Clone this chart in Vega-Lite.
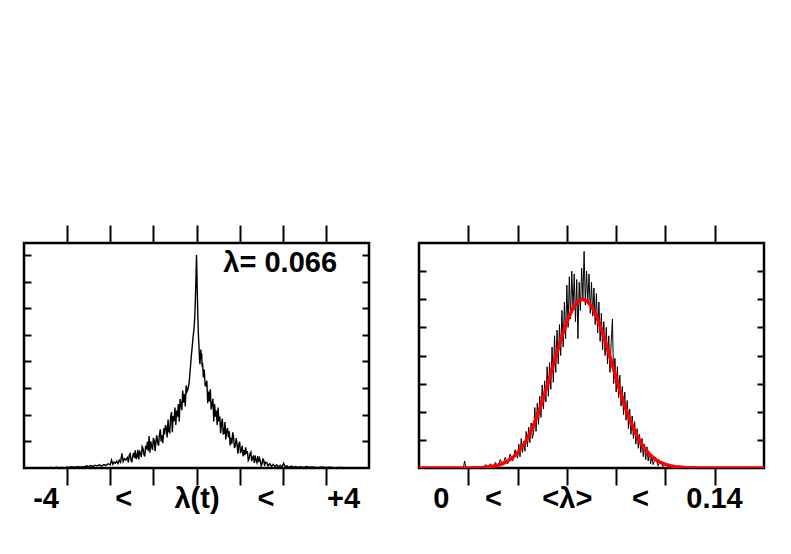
{
  "$schema": "https://vega.github.io/schema/vega-lite/v6.json",
  "background": "white",
  "padding": {"left": 21, "top": 222, "right": 0, "bottom": 0},
  "bounds": "flush",
  "spacing": 50,
  "config": {
    "view": {"stroke": "black", "strokeWidth": 2.5},
    "axis": {"domain": false, "grid": false, "tickColor": "black", "tickWidth": 2, "labelFont": "Liberation Sans", "labelFontWeight": "bold", "labelFontSize": 29, "labelColor": "black", "title": null, "tickCount": 20, "labelOverlap": false}
  },
  "datasets": {
    "left": [
      {"x":-3.4,"y":0.02},{"x":-3.3,"y":0},{"x":-3.25,"y":0.03},{"x":-3.2,"y":0.01},{"x":-3.1,"y":0.02},{"x":-3.05,"y":0},{"x":-3.0,"y":0.04},{"x":-2.95,"y":0.02},{"x":-2.9,"y":0.05},{"x":-2.8,"y":0.03},{"x":-2.75,"y":0.06},{"x":-2.7,"y":0.03},{"x":-2.65,"y":0.05},{"x":-2.6,"y":0.04},{"x":-2.55,"y":0.08},{"x":-2.5,"y":0.05},{"x":-2.45,"y":0.09},{"x":-2.4,"y":0.06},{"x":-2.35,"y":0.1},{"x":-2.3,"y":0.08},{"x":-2.25,"y":0.12},{"x":-2.2,"y":0.07},{"x":-2.15,"y":0.13},{"x":-2.1,"y":0.1},{"x":-2.05,"y":0.16},{"x":-2.0,"y":0.12},{"x":-1.97,"y":0.3},{"x":-1.94,"y":0.14},{"x":-1.91,"y":0.22},{"x":-1.88,"y":0.18},{"x":-1.85,"y":0.26},{"x":-1.82,"y":0.17},{"x":-1.79,"y":0.3},{"x":-1.76,"y":0.22},{"x":-1.73,"y":0.55},{"x":-1.7,"y":0.24},{"x":-1.67,"y":0.35},{"x":-1.64,"y":0.3},
      {"x":-1.6,"y":0.39},{"x":-1.58,"y":0.21},{"x":-1.56,"y":0.48},{"x":-1.54,"y":0.54},{"x":-1.52,"y":0.31},{"x":-1.5,"y":0.21},{"x":-1.48,"y":0.45},{"x":-1.46,"y":0.57},{"x":-1.44,"y":0.38},{"x":-1.42,"y":0.66},{"x":-1.4,"y":0.34},{"x":-1.38,"y":0.44},{"x":-1.36,"y":0.68},{"x":-1.34,"y":0.32},{"x":-1.32,"y":0.62},{"x":-1.3,"y":0.57},{"x":-1.28,"y":0.41},{"x":-1.26,"y":0.8},{"x":-1.24,"y":0.73},{"x":-1.22,"y":0.51},{"x":-1.2,"y":0.43},{"x":-1.18,"y":0.83},{"x":-1.16,"y":0.7},{"x":-1.14,"y":0.98},{"x":-1.12,"y":0.64},{"x":-1.1,"y":1.2},{"x":-1.08,"y":0.57},{"x":-1.06,"y":1.0},{"x":-1.04,"y":0.8},{"x":-1.02,"y":0.68},{"x":-1.0,"y":1.13},{"x":-0.98,"y":1.02},{"x":-0.96,"y":0.63},{"x":-0.94,"y":1.02},{"x":-0.92,"y":1.23},{"x":-0.9,"y":0.93},{"x":-0.88,"y":0.84},{"x":-0.86,"y":1.25},{"x":-0.84,"y":1.45},{"x":-0.82,"y":1.0},{"x":-0.8,"y":1.23},{"x":-0.78,"y":0.93},{"x":-0.76,"y":1.49},{"x":-0.74,"y":1.25},{"x":-0.72,"y":1.61},{"x":-0.7,"y":1.51},{"x":-0.68,"y":1.15},{"x":-0.66,"y":1.82},{"x":-0.64,"y":1.37},{"x":-0.62,"y":1.33},{"x":-0.6,"y":1.91},{"x":-0.58,"y":2.1},{"x":-0.56,"y":1.34},{"x":-0.54,"y":1.95},{"x":-0.52,"y":1.76},{"x":-0.5,"y":2.27},{"x":-0.48,"y":1.62},{"x":-0.46,"y":2.16},{"x":-0.44,"y":1.93},{"x":-0.42,"y":2.4},{"x":-0.4,"y":1.75},{"x":-0.38,"y":2.59},{"x":-0.36,"y":2.39},{"x":-0.34,"y":2.17},{"x":-0.32,"y":2.91},{"x":-0.3,"y":2.45},{"x":-0.28,"y":2.78},{"x":-0.26,"y":2.31},{"x":-0.24,"y":3.1},{"x":-0.22,"y":2.87},
      {"x":-0.2,"y":2.95},{"x":-0.18,"y":3.1},{"x":-0.16,"y":3.4},{"x":-0.14,"y":3.8},{"x":-0.12,"y":4.2},{"x":-0.1,"y":4.55},{"x":-0.08,"y":4.9},{"x":-0.06,"y":5.2},{"x":-0.05,"y":5.4},{"x":-0.04,"y":5.7},{"x":-0.03,"y":6.1},{"x":-0.02,"y":6.7},{"x":-0.01,"y":7.3},{"x":0,"y":8.0},
      {"x":0.01,"y":7.3},{"x":0.02,"y":6.5},{"x":0.03,"y":5.8},{"x":0.04,"y":5.2},{"x":0.05,"y":4.8},{"x":0.06,"y":4.5},{"x":0.07,"y":4.1},{"x":0.08,"y":3.9},{"x":0.09,"y":4.2},{"x":0.1,"y":4.45},{"x":0.11,"y":4.1},{"x":0.12,"y":4.3},{"x":0.13,"y":3.8},{"x":0.14,"y":3.95},{"x":0.16,"y":3.4},{"x":0.18,"y":3.7},{"x":0.2,"y":3.1},
      {"x":0.22,"y":3.08},{"x":0.24,"y":3.28},{"x":0.26,"y":2.43},{"x":0.28,"y":2.87},{"x":0.3,"y":2.5},{"x":0.32,"y":2.96},{"x":0.34,"y":2.2},{"x":0.36,"y":2.41},{"x":0.38,"y":2.6},{"x":0.4,"y":1.75},{"x":0.42,"y":2.4},{"x":0.44,"y":1.93},{"x":0.46,"y":2.16},{"x":0.48,"y":1.62},{"x":0.5,"y":2.27},{"x":0.52,"y":1.75},{"x":0.54,"y":1.93},{"x":0.56,"y":1.31},{"x":0.58,"y":1.69},{"x":0.6,"y":1.85},{"x":0.62,"y":1.28},{"x":0.64,"y":1.3},{"x":0.66,"y":1.73},{"x":0.68,"y":1.07},{"x":0.7,"y":1.41},{"x":0.72,"y":1.5},{"x":0.74,"y":1.15},{"x":0.76,"y":1.38},{"x":0.78,"y":0.85},{"x":0.8,"y":1.13},{"x":0.82,"y":0.91},{"x":0.84,"y":1.34},{"x":0.86,"y":1.14},{"x":0.88,"y":0.75},{"x":0.9,"y":0.83},{"x":0.92,"y":1.12},{"x":0.94,"y":0.91},{"x":0.96,"y":0.54},{"x":0.98,"y":0.89},{"x":1.0,"y":0.99},{"x":1.02,"y":0.56},{"x":1.04,"y":0.66},{"x":1.06,"y":0.83},{"x":1.08,"y":0.44},{"x":1.1,"y":0.67},{"x":1.12,"y":0.48},{"x":1.14,"y":0.78},{"x":1.16,"y":0.53},{"x":1.18,"y":0.64},{"x":1.2,"y":0.29},{"x":1.22,"y":0.36},{"x":1.24,"y":0.54},{"x":1.26,"y":0.6},{"x":1.28,"y":0.26},{"x":1.3,"y":0.4},{"x":1.32,"y":0.44},{"x":1.34,"y":0.19},{"x":1.36,"y":0.47},{"x":1.38,"y":0.28},{"x":1.4,"y":0.2},{"x":1.42,"y":0.45},{"x":1.44,"y":0.22},{"x":1.46,"y":0.37},{"x":1.48,"y":0.27},{"x":1.5,"y":0.08},{"x":1.52,"y":0.16},{"x":1.54,"y":0.33},{"x":1.56,"y":0.28},{"x":1.58,"y":0.08},{"x":1.6,"y":0.22},
      {"x":1.63,"y":0.2},{"x":1.66,"y":0.08},{"x":1.7,"y":0.16},{"x":1.74,"y":0.07},{"x":1.78,"y":0.14},{"x":1.82,"y":0.05},{"x":1.86,"y":0.12},{"x":1.9,"y":0.04},{"x":1.94,"y":0.1},{"x":1.98,"y":0.03},{"x":2.02,"y":0.18},{"x":2.06,"y":0.04},{"x":2.1,"y":0.08},{"x":2.15,"y":0.02},{"x":2.2,"y":0.07},{"x":2.25,"y":0.03},{"x":2.3,"y":0.06},{"x":2.35,"y":0.02},{"x":2.4,"y":0.05},{"x":2.5,"y":0.02},{"x":2.55,"y":0.06},{"x":2.6,"y":0.03},{"x":2.7,"y":0.04},{"x":2.8,"y":0.01},{"x":2.9,"y":0.04},{"x":3.0,"y":0.02},{"x":3.1,"y":0.03},{"x":3.2,"y":0.0},{"x":3.3,"y":0.02},{"x":3.47,"y":0.01}
    ],
    "rightHist": [
      {"x":0.018,"y":0},{"x":0.0185,"y":0.25},{"x":0.019,"y":0.02},{"x":0.021,"y":0},{"x":0.023,"y":0.03},{"x":0.025,"y":0.05},{"x":0.026,"y":0},{"x":0.027,"y":0.12},{"x":0.028,"y":0.04},{"x":0.029,"y":0.15},{"x":0.03,"y":0.05},
      {"x":0.031,"y":0.2},{"x":0.032,"y":0.05},{"x":0.033,"y":0.3},{"x":0.034,"y":0.1},{"x":0.035,"y":0.38},{"x":0.036,"y":0.15},{"x":0.037,"y":0.5},{"x":0.038,"y":0.25},{"x":0.039,"y":0.65},{"x":0.04,"y":0.35},
      {"x":0.0405,"y":0.85},{"x":0.041,"y":0.4},{"x":0.0415,"y":1.05},{"x":0.042,"y":0.55},{"x":0.0425,"y":0.95},{"x":0.043,"y":0.6},{"x":0.0435,"y":1.3},{"x":0.044,"y":0.75},{"x":0.0445,"y":1.45},{"x":0.045,"y":0.9},{"x":0.0455,"y":1.6},{"x":0.046,"y":1.05},{"x":0.0465,"y":1.25},{"x":0.047,"y":2.15},{"x":0.0475,"y":1.3},{"x":0.048,"y":2.3},{"x":0.0485,"y":1.55},{"x":0.049,"y":2.55},{"x":0.0495,"y":1.8},{"x":0.05,"y":2.95},{"x":0.0505,"y":2.1},{"x":0.051,"y":3.1},{"x":0.0515,"y":2.35},{"x":0.052,"y":3.6},{"x":0.0525,"y":2.55},{"x":0.053,"y":3.75},{"x":0.0535,"y":2.8},{"x":0.054,"y":4.3},{"x":0.0545,"y":3.05},{"x":0.055,"y":4.7},{"x":0.0555,"y":3.4},{"x":0.056,"y":4.9},{"x":0.0565,"y":3.7},{"x":0.057,"y":5.1},{"x":0.0575,"y":4.0},{"x":0.058,"y":5.6},{"x":0.0585,"y":4.3},{"x":0.059,"y":5.9},{"x":0.0595,"y":4.6},{"x":0.06,"y":6.5},{"x":0.0605,"y":5.0},{"x":0.061,"y":6.8},{"x":0.0615,"y":5.3},{"x":0.062,"y":7.0},{"x":0.0625,"y":5.7},{"x":0.063,"y":6.9},{"x":0.0635,"y":5.2},{"x":0.064,"y":6.7},{"x":0.0645,"y":4.6},{"x":0.065,"y":6.6},{"x":0.0655,"y":5.6},{"x":0.066,"y":7.1},{"x":0.0665,"y":6.0},{"x":0.067,"y":7.7},{"x":0.0675,"y":5.8},{"x":0.068,"y":7.0},{"x":0.0685,"y":5.9},{"x":0.069,"y":6.9},{"x":0.0695,"y":5.5},{"x":0.07,"y":6.6},{"x":0.0705,"y":5.4},{"x":0.071,"y":6.4},{"x":0.0715,"y":5.1},{"x":0.072,"y":6.2},{"x":0.0725,"y":4.8},{"x":0.073,"y":5.9},{"x":0.0735,"y":4.5},{"x":0.074,"y":5.5},{"x":0.0745,"y":4.2},{"x":0.075,"y":5.2},{"x":0.0755,"y":4.0},{"x":0.076,"y":5.0},{"x":0.0765,"y":3.7},{"x":0.077,"y":4.7},{"x":0.0775,"y":3.4},{"x":0.078,"y":4.5},{"x":0.0785,"y":5.3},{"x":0.079,"y":3.0},{"x":0.0795,"y":3.9},{"x":0.08,"y":2.7},{"x":0.0805,"y":3.6},{"x":0.081,"y":2.5},{"x":0.0815,"y":3.3},{"x":0.082,"y":2.2},{"x":0.0825,"y":2.9},{"x":0.083,"y":1.9},{"x":0.0835,"y":2.7},{"x":0.084,"y":1.7},{"x":0.0845,"y":2.4},{"x":0.085,"y":1.4},{"x":0.0855,"y":2.1},{"x":0.086,"y":1.2},{"x":0.0865,"y":1.85},{"x":0.087,"y":1.05},{"x":0.0875,"y":1.65},{"x":0.088,"y":0.85},{"x":0.0885,"y":1.4},{"x":0.089,"y":0.7},{"x":0.0895,"y":1.2},{"x":0.09,"y":0.55},{"x":0.0905,"y":1.05},{"x":0.091,"y":0.4},{"x":0.0915,"y":0.85},{"x":0.092,"y":0.3},{"x":0.0925,"y":0.75},{"x":0.093,"y":0.25},{"x":0.0935,"y":0.55},{"x":0.094,"y":0.15},{"x":0.0945,"y":0.45},{"x":0.095,"y":0.12},
      {"x":0.096,"y":0.38},{"x":0.097,"y":0.08},{"x":0.098,"y":0.25},{"x":0.099,"y":0.05},{"x":0.1,"y":0.15},{"x":0.101,"y":0.03},{"x":0.102,"y":0.1},{"x":0.103,"y":0.02},{"x":0.104,"y":0.06},{"x":0.105,"y":0.01},{"x":0.106,"y":0.04},{"x":0.107,"y":0},{"x":0.108,"y":0.02}
    ],
    "rightFit": [
      {"x":0,"y":0},{"x":0.015,"y":0},{"x":0.022,"y":0.006},{"x":0.026,"y":0.021},{"x":0.03,"y":0.062},{"x":0.032,"y":0.1},{"x":0.034,"y":0.159},{"x":0.036,"y":0.245},{"x":0.038,"y":0.368},{"x":0.04,"y":0.537},{"x":0.042,"y":0.762},{"x":0.044,"y":1.053},{"x":0.046,"y":1.415},{"x":0.048,"y":1.851},{"x":0.05,"y":2.353},{"x":0.052,"y":2.912},{"x":0.054,"y":3.507},{"x":0.056,"y":4.108},{"x":0.058,"y":4.681},{"x":0.06,"y":5.19},{"x":0.062,"y":5.597},{"x":0.064,"y":5.872},{"x":0.066,"y":5.995},{"x":0.068,"y":5.954},{"x":0.07,"y":5.753},{"x":0.072,"y":5.407},{"x":0.074,"y":4.943},{"x":0.076,"y":4.4},{"x":0.078,"y":3.808},{"x":0.08,"y":3.205},{"x":0.082,"y":2.626},{"x":0.084,"y":2.094},{"x":0.086,"y":1.624},{"x":0.088,"y":1.224},{"x":0.09,"y":0.898},{"x":0.092,"y":0.642},{"x":0.094,"y":0.446},{"x":0.096,"y":0.301},{"x":0.098,"y":0.198},{"x":0.1,"y":0.127},{"x":0.102,"y":0.079},{"x":0.104,"y":0.048},{"x":0.108,"y":0.016},{"x":0.112,"y":0.005},{"x":0.12,"y":0},{"x":0.14,"y":0}
    ],
    "leftLab": [
      {"pos":-3.5,"v":0},{"pos":-1.7,"v":0},{"pos":0,"v":0},{"pos":1.6,"v":0},{"pos":3.4,"v":0}
    ],
    "rightLab": [
      {"pos":0.0089,"v":0},{"pos":0.03,"v":0},{"pos":0.06,"v":0},{"pos":0.0897,"v":0},{"pos":0.1197,"v":0}
    ],
    "note": [
      {"x":1.94,"y":7.7,"t":"λ= 0.066"}
    ]
  },
  "hconcat": [
    {
      "width": 345,
      "height": 225,
      "layer": [
        {
          "layer": [
            {
              "data": {"name": "left"},
              "mark": {"type": "line", "color": "black", "strokeWidth": 1.4, "clip": true},
              "encoding": {
                "x": {"field": "x", "type": "quantitative", "scale": {"domain": [-4, 4], "nice": false, "zero": false}, "axis": {"orient": "bottom", "values": [-3,-2,-1,0,1,2,3], "labels": false, "tickSize": 17}},
                "y": {"field": "y", "type": "quantitative", "scale": {"domain": [0, 8.45], "nice": false}, "axis": {"orient": "left", "values": [1,2,3,4,5,6,7,8], "labels": false, "tickSize": -7}}
              }
            },
            {
              "data": {"name": "note"},
              "mark": {"type": "text", "font": "Liberation Sans", "fontWeight": "bold", "fontSize": 29, "color": "black", "align": "center", "baseline": "middle"},
              "encoding": {
                "x": {"field": "x", "type": "quantitative"},
                "y": {"field": "y", "type": "quantitative"},
                "text": {"field": "t"}
              }
            }
          ]
        },
        {
          "data": {"name": "leftLab"},
          "mark": {"type": "point", "opacity": 0},
          "encoding": {
            "x": {"field": "pos", "type": "quantitative", "scale": {"domain": [-4, 4], "nice": false, "zero": false}, "axis": {"orient": "top", "values": [-3,-2,-1,0,1,2,3], "labels": false, "tickSize": 18}},
            "y": {"field": "v", "type": "quantitative", "scale": {"domain": [0, 8.45], "nice": false}, "axis": {"orient": "right", "values": [1,2,3,4,5,6,7,8], "labels": false, "tickSize": -7}}
          }
        },
        {
          "data": {"name": "leftLab"},
          "mark": {"type": "point", "opacity": 0},
          "encoding": {
            "x": {"field": "pos", "type": "quantitative", "scale": {"domain": [-4, 4], "nice": false, "zero": false}, "axis": {"orient": "bottom", "values": [-3.5,-1.7,0,1.6,3.4], "ticks": false, "offset": 15, "labelPadding": 1, "labelFlush": false, "labelExpr": "datum.value < -3 ? '-4' : datum.value < -1 ? '<' : datum.value < 1 ? 'λ(t)' : datum.value < 3 ? '<' : '+4'"}},
            "y": {"field": "v", "type": "quantitative", "scale": {"domain": [0, 8.45], "nice": false}, "axis": null}
          }
        }
      ],
      "resolve": {"scale": {"x": "independent", "y": "independent"}, "axis": {"x": "independent", "y": "independent"}}
    },
    {
      "width": 345,
      "height": 225,
      "layer": [
        {
          "layer": [
            {
              "data": {"name": "rightHist"},
              "mark": {"type": "line", "color": "black", "strokeWidth": 1, "clip": true},
              "encoding": {
                "x": {"field": "x", "type": "quantitative", "scale": {"domain": [0, 0.14], "nice": false, "zero": false}, "axis": {"orient": "bottom", "values": [0.02,0.04,0.06,0.08,0.1,0.12], "labels": false, "tickSize": 17}},
                "y": {"field": "y", "type": "quantitative", "scale": {"domain": [0, 8], "nice": false}, "axis": {"orient": "left", "values": [1,2,3,4,5,6,7], "labels": false, "tickSize": -7}}
              }
            },
            {
              "data": {"name": "rightFit"},
              "mark": {"type": "line", "color": "#ff0000", "strokeWidth": 3.5, "clip": true},
              "encoding": {
                "x": {"field": "x", "type": "quantitative"},
                "y": {"field": "y", "type": "quantitative"}
              }
            }
          ]
        },
        {
          "data": {"name": "rightLab"},
          "mark": {"type": "point", "opacity": 0},
          "encoding": {
            "x": {"field": "pos", "type": "quantitative", "scale": {"domain": [0, 0.14], "nice": false, "zero": false}, "axis": {"orient": "top", "values": [0.02,0.04,0.06,0.08,0.1,0.12], "labels": false, "tickSize": 18}},
            "y": {"field": "v", "type": "quantitative", "scale": {"domain": [0, 8], "nice": false}, "axis": {"orient": "right", "values": [1,2,3,4,5,6,7], "labels": false, "tickSize": -7}}
          }
        },
        {
          "data": {"name": "rightLab"},
          "mark": {"type": "point", "opacity": 0},
          "encoding": {
            "x": {"field": "pos", "type": "quantitative", "scale": {"domain": [0, 0.14], "nice": false, "zero": false}, "axis": {"orient": "bottom", "values": [0.0089,0.03,0.06,0.0897,0.1197], "ticks": false, "offset": 15, "labelPadding": 1, "labelFlush": false, "labelExpr": "datum.value < 0.02 ? '0' : datum.value < 0.045 ? '<' : datum.value < 0.075 ? '<λ>' : datum.value < 0.105 ? '<' : '0.14'"}},
            "y": {"field": "v", "type": "quantitative", "scale": {"domain": [0, 8], "nice": false}, "axis": null}
          }
        }
      ],
      "resolve": {"scale": {"x": "independent", "y": "independent"}, "axis": {"x": "independent", "y": "independent"}}
    }
  ]
}
